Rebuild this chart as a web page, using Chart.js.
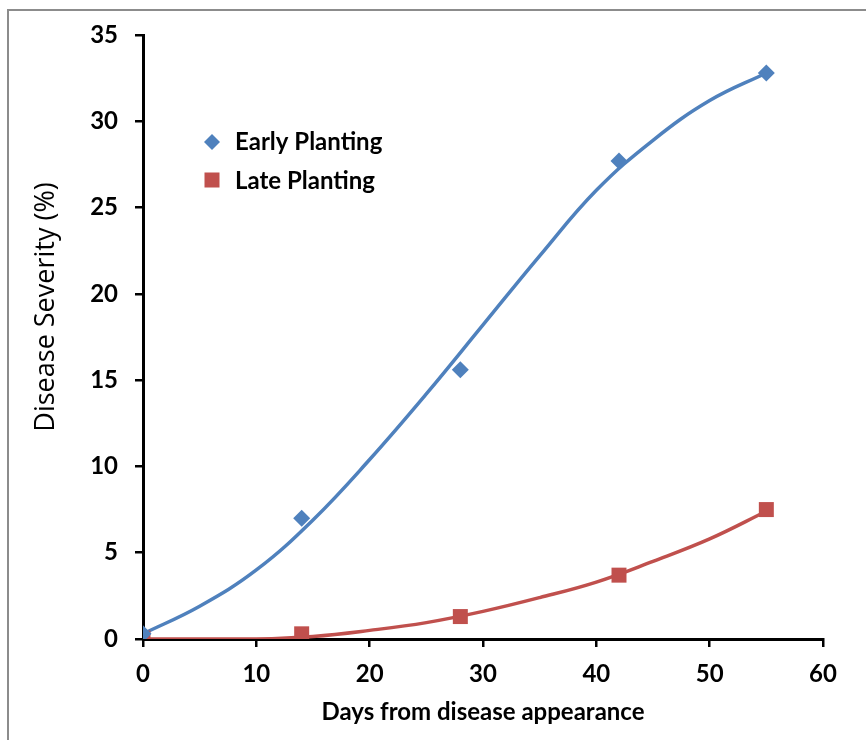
<!DOCTYPE html>
<html>
<head>
<meta charset="utf-8">
<script src="https://cdn.jsdelivr.net/npm/chart.js@4.4.1/dist/chart.umd.min.js"></script>
<style>
  html, body { margin: 0; padding: 0; background: #fff; }
  #wrap { position: relative; width: 866px; height: 740px; }
  #frame { position: absolute; left: 7px; top: 9px; right: -10px; bottom: -10px;
           border-left: 2px solid #8c8c8c; border-top: 2px solid #8c8c8c; }
  canvas { position: absolute; left: 0; top: 0; }
</style>
</head>
<body>
<div id="wrap">
  <div id="frame"></div>
  <canvas id="grafico" width="866" height="740"></canvas>
</div>
<script>
// Pontos observados
const DIAS = [0, 14, 28, 42, 55];
const EARLY = [0.3, 7.0, 15.6, 27.7, 32.8];
const LATE = [0.05, 0.3, 1.3, 3.7, 7.5];

// Curvas de tendência
const DIAS_CURVA = [0, 5, 10, 15, 20, 25, 30, 35, 40, 45, 50, 55];
const EARLY_CURVA = [0.3, 1.9, 4.0, 6.9, 10.4, 14.2, 18.2, 22.2, 26.0, 28.9, 31.2, 32.8];
const LATE_CURVA = [0.0, 0.0, 0.0, 0.15, 0.5, 0.95, 1.6, 2.4, 3.3, 4.5, 5.8, 7.4];

const X_TICKS = [0, 10, 20, 30, 40, 50, 60];
const Y_TICKS = [0, 5, 10, 15, 20, 25, 30, 35];

const AZUL = '#4F81BD';
const VERMELHO = '#C0504D';
const FONTE = 'Lato, "DejaVu Sans", sans-serif';

const pares = (xs, ys) => xs.map((x, i) => ({ x, y: ys[i] }));

// Legenda e títulos dos eixos desenhados à mão
const extras = {
  id: 'extras',
  afterDraw(chart) {
    const ctx = chart.ctx;
    const area = chart.chartArea;
    ctx.save();

    // legenda
    ctx.fillStyle = AZUL;
    ctx.beginPath();
    ctx.moveTo(212, 134); ctx.lineTo(220, 142); ctx.lineTo(212, 150); ctx.lineTo(204, 142);
    ctx.closePath();
    ctx.fill();
    ctx.fillStyle = VERMELHO;
    ctx.fillRect(204.5, 172.5, 15, 15);

    ctx.fillStyle = '#000';
    ctx.font = 'bold 24px ' + FONTE;
    ctx.textBaseline = 'middle';
    ctx.textAlign = 'left';
    ctx.fillText('Early Planting', 235, 142);
    ctx.fillText('Late Planting', 235, 181);

    // título eixo x
    ctx.textAlign = 'center';
    ctx.fillText('Days from disease appearance', (area.left + area.right) / 2, 712);

    // título eixo y
    ctx.translate(46, 307);
    ctx.rotate(-Math.PI / 2);
    ctx.font = '27px "Open Sans", sans-serif';
    ctx.fillText('Disease Severity (%)', 0, 0);
    ctx.restore();
  }
};

const eixo = {
  grid: { display: true, drawOnChartArea: false, drawTicks: true, tickLength: 8, color: '#000', lineWidth: 2.5 },
  border: { display: true, color: '#000', width: 3 },
  ticks: { color: '#000', font: { family: FONTE, size: 24, weight: 'bold' } }
};

new Chart(document.getElementById('grafico'), {
  type: 'scatter',
  data: {
    datasets: [
      {
        label: 'Early Planting',
        data: pares(DIAS, EARLY),
        pointStyle: 'rectRot',
        pointRadius: 8.5,
        backgroundColor: AZUL,
        borderColor: AZUL,
        borderWidth: 0,
        order: 1
      },
      {
        label: 'Late Planting',
        data: pares(DIAS, LATE),
        pointStyle: 'rect',
        pointRadius: 10.6,
        backgroundColor: VERMELHO,
        borderColor: VERMELHO,
        borderWidth: 0,
        order: 1
      },
      {
        type: 'line',
        label: 'tendência early',
        data: pares(DIAS_CURVA, EARLY_CURVA),
        borderColor: AZUL,
        borderWidth: 3.5,
        pointRadius: 0,
        tension: 0.4,
        fill: false,
        order: 2
      },
      {
        type: 'line',
        label: 'tendência late',
        data: pares(DIAS_CURVA, LATE_CURVA),
        borderColor: VERMELHO,
        borderWidth: 3.5,
        pointRadius: 0,
        tension: 0.4,
        fill: false,
        order: 2
      }
    ]
  },
  options: {
    responsive: false,
    animation: false,
    layout: { padding: { left: 0, top: 35, right: 43, bottom: 0 } },
    plugins: { legend: { display: false }, tooltip: { enabled: false } },
    scales: {
      x: {
        ...eixo,
        type: 'linear',
        min: 0, max: 60,
        afterBuildTicks: s => { s.ticks = X_TICKS.map(v => ({ value: v })); },
        afterFit: s => { s.height = 101; },
        ticks: { ...eixo.ticks, padding: 13, maxRotation: 0 }
      },
      y: {
        ...eixo,
        min: 0, max: 35,
        afterBuildTicks: s => { s.ticks = Y_TICKS.map(v => ({ value: v })); },
        afterFit: s => { s.width = 143; },
        ticks: { ...eixo.ticks, padding: 17 }
      }
    }
  },
  plugins: [extras]
});
</script>
</body>
</html>
